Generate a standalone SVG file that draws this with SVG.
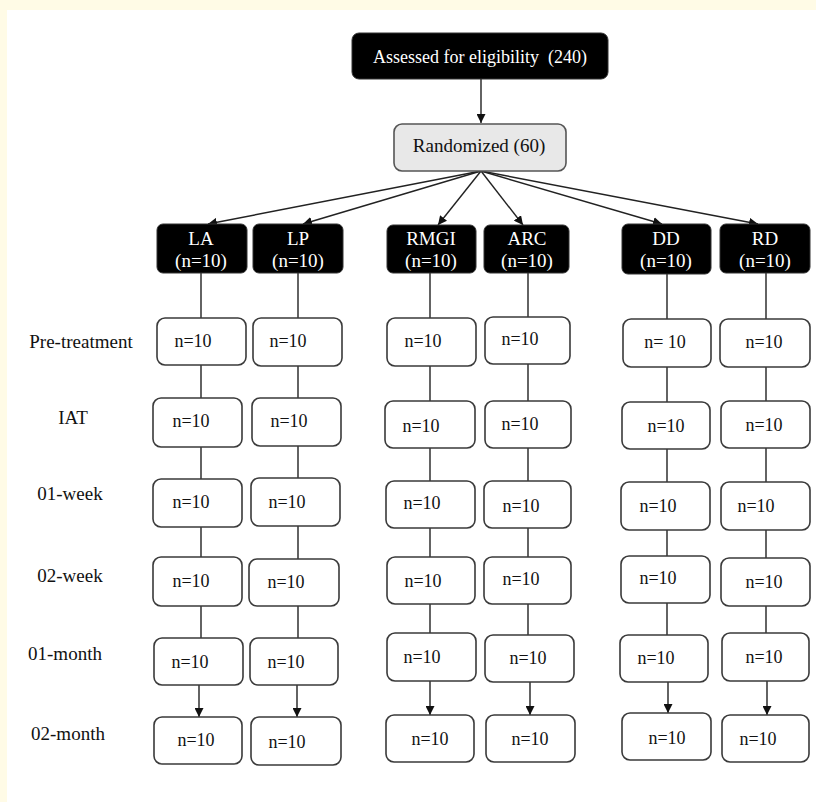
<svg xmlns="http://www.w3.org/2000/svg" width="816" height="802" viewBox="0 0 816 802">
<defs>
<style>
.bg{fill:#fffbe6}
.hdr{fill:#000;stroke:#333;stroke-width:1}
.box{fill:#fff;stroke:#3a3a3a;stroke-width:1.6}
.rnd{fill:#e8e8e8;stroke:#555;stroke-width:1.6}
.t{font-family:"Liberation Serif","Times New Roman",serif;font-size:18px;fill:#111;text-anchor:middle}
.w{fill:#fff;font-size:19px}
.lab{font-family:"Liberation Serif","Times New Roman",serif;font-size:19px;fill:#111;text-anchor:middle}
.ln{stroke:#222;stroke-width:1.4;fill:none}
</style>
<marker id="ah" viewBox="0 0 10 10" refX="10" refY="5" markerWidth="9" markerHeight="9" markerUnits="userSpaceOnUse" orient="auto">
<path d="M0,0 L10,5 L0,10 Z" fill="#111"/>
</marker>
</defs>
<rect x="0" y="0" width="816" height="802" fill="#fff"/>
<rect class="bg" x="0" y="0" width="816" height="10"/>
<rect class="bg" x="0" y="0" width="7" height="802"/>

<g id="connectors">
<line class="ln" x1="481" y1="79" x2="481" y2="123" marker-end="url(#ah)"/>
<line class="ln" x1="481" y1="171" x2="208" y2="224" marker-end="url(#ah)"/>
<line class="ln" x1="481" y1="171" x2="303" y2="224" marker-end="url(#ah)"/>
<line class="ln" x1="481" y1="171" x2="438" y2="225" marker-end="url(#ah)"/>
<line class="ln" x1="481" y1="171" x2="523" y2="225" marker-end="url(#ah)"/>
<line class="ln" x1="481" y1="171" x2="662" y2="224" marker-end="url(#ah)"/>
<line class="ln" x1="481" y1="171" x2="758" y2="224" marker-end="url(#ah)"/>
<line class="ln" x1="201" y1="273" x2="201" y2="638"/>
<line class="ln" x1="298" y1="273" x2="298" y2="638"/>
<line class="ln" x1="430" y1="273" x2="430" y2="633"/>
<line class="ln" x1="528" y1="273" x2="528" y2="635"/>
<line class="ln" x1="667" y1="274" x2="667" y2="635"/>
<line class="ln" x1="766" y1="273" x2="766" y2="633"/>
<line class="ln" x1="199" y1="685" x2="199" y2="717" marker-end="url(#ah)"/>
<line class="ln" x1="297" y1="685" x2="297" y2="717" marker-end="url(#ah)"/>
<line class="ln" x1="430" y1="681" x2="430" y2="715" marker-end="url(#ah)"/>
<line class="ln" x1="530" y1="682" x2="530" y2="715" marker-end="url(#ah)"/>
<line class="ln" x1="668" y1="682" x2="668" y2="713" marker-end="url(#ah)"/>
<line class="ln" x1="767" y1="681" x2="767" y2="715" marker-end="url(#ah)"/>
</g>

<g id="assessed"><rect class="hdr" x="352" y="33" width="256" height="46" rx="7"/><text class="t" x="480" y="63" style="fill:#fff">Assessed for eligibility &#160;(240)</text></g>
<g id="randomized"><rect class="rnd" x="394" y="124" width="172" height="47" rx="8"/><text class="t" x="479" y="152" style="font-size:19px">Randomized (60)</text></g>

<g id="hdr-LA"><rect class="hdr" x="157" y="224" width="90" height="49" rx="6"/><text class="t w" x="201" y="245">LA</text><text class="t w" x="201" y="267">(n=10)</text></g>
<g id="hdr-LP"><rect class="hdr" x="253" y="224" width="90" height="49" rx="6"/><text class="t w" x="298" y="245">LP</text><text class="t w" x="298" y="267">(n=10)</text></g>
<g id="hdr-RMGI"><rect class="hdr" x="387" y="225" width="89" height="48" rx="6"/><text class="t w" x="431" y="245">RMGI</text><text class="t w" x="431" y="267">(n=10)</text></g>
<g id="hdr-ARC"><rect class="hdr" x="484" y="225" width="85" height="48" rx="6"/><text class="t w" x="527" y="245">ARC</text><text class="t w" x="527" y="267">(n=10)</text></g>
<g id="hdr-DD"><rect class="hdr" x="622" y="224" width="89" height="50" rx="6"/><text class="t w" x="666" y="245">DD</text><text class="t w" x="666" y="267">(n=10)</text></g>
<g id="hdr-RD"><rect class="hdr" x="720" y="224" width="90" height="49" rx="6"/><text class="t w" x="765" y="245">RD</text><text class="t w" x="765" y="267">(n=10)</text></g>

<g id="labels">
<text class="lab" x="81" y="348">Pre-treatment</text>
<text class="lab" x="73" y="424">IAT</text>
<text class="lab" x="70" y="500">01-week</text>
<text class="lab" x="70" y="582">02-week</text>
<text class="lab" x="65" y="660">01-month</text>
<text class="lab" x="68" y="740">02-month</text>
</g>

<g id="row-pre">
<g id="pre-LA"><rect class="box" x="157" y="318" width="89" height="47" rx="8"/><text class="t" x="193" y="347">n=10</text></g>
<g id="pre-LP"><rect class="box" x="253" y="318" width="89" height="48" rx="8"/><text class="t" x="288" y="347">n=10</text></g>
<g id="pre-RMGI"><rect class="box" x="387" y="318" width="89" height="48" rx="8"/><text class="t" x="423" y="347">n=10</text></g>
<g id="pre-ARC"><rect class="box" x="485" y="317" width="85" height="47" rx="8"/><text class="t" x="520" y="345">n=10</text></g>
<g id="pre-DD"><rect class="box" x="623" y="319" width="88" height="48" rx="8"/><text class="t" x="665" y="348">n= 10</text></g>
<g id="pre-RD"><rect class="box" x="720" y="319" width="90" height="48" rx="8"/><text class="t" x="764" y="348">n=10</text></g>
</g>

<g id="row-iat">
<g id="iat-LA"><rect class="box" x="153" y="398" width="89" height="49" rx="8"/><text class="t" x="191" y="427">n=10</text></g>
<g id="iat-LP"><rect class="box" x="252" y="398" width="89" height="48" rx="8"/><text class="t" x="289" y="427">n=10</text></g>
<g id="iat-RMGI"><rect class="box" x="385" y="401" width="90" height="47" rx="8"/><text class="t" x="421" y="432">n=10</text></g>
<g id="iat-ARC"><rect class="box" x="485" y="401" width="86" height="47" rx="8"/><text class="t" x="520" y="430">n=10</text></g>
<g id="iat-DD"><rect class="box" x="622" y="402" width="88" height="47" rx="8"/><text class="t" x="666" y="432">n=10</text></g>
<g id="iat-RD"><rect class="box" x="721" y="401" width="89" height="47" rx="8"/><text class="t" x="764" y="431">n=10</text></g>
</g>

<g id="row-w1">
<g id="w1-LA"><rect class="box" x="153" y="479" width="89" height="48" rx="8"/><text class="t" x="191" y="508">n=10</text></g>
<g id="w1-LP"><rect class="box" x="251" y="478" width="89" height="48" rx="8"/><text class="t" x="287" y="508">n=10</text></g>
<g id="w1-RMGI"><rect class="box" x="386" y="481" width="89" height="47" rx="8"/><text class="t" x="422" y="509">n=10</text></g>
<g id="w1-ARC"><rect class="box" x="484" y="481" width="87" height="47" rx="8"/><text class="t" x="521" y="512">n=10</text></g>
<g id="w1-DD"><rect class="box" x="621" y="482" width="89" height="48" rx="8"/><text class="t" x="658" y="512">n=10</text></g>
<g id="w1-RD"><rect class="box" x="721" y="482" width="89" height="48" rx="8"/><text class="t" x="756" y="512">n=10</text></g>
</g>

<g id="row-w2">
<g id="w2-LA"><rect class="box" x="153" y="557" width="89" height="49" rx="8"/><text class="t" x="191" y="587">n=10</text></g>
<g id="w2-LP"><rect class="box" x="249" y="559" width="90" height="47" rx="8"/><text class="t" x="286" y="588">n=10</text></g>
<g id="w2-RMGI"><rect class="box" x="387" y="557" width="88" height="47" rx="8"/><text class="t" x="423" y="587">n=10</text></g>
<g id="w2-ARC"><rect class="box" x="484" y="557" width="87" height="47" rx="8"/><text class="t" x="521" y="585">n=10</text></g>
<g id="w2-DD"><rect class="box" x="621" y="556" width="89" height="47" rx="8"/><text class="t" x="658" y="584">n=10</text></g>
<g id="w2-RD"><rect class="box" x="721" y="558" width="89" height="48" rx="8"/><text class="t" x="764" y="588">n=10</text></g>
</g>

<g id="row-m1">
<g id="m1-LA"><rect class="box" x="154" y="638" width="89" height="47" rx="8"/><text class="t" x="190" y="668">n=10</text></g>
<g id="m1-LP"><rect class="box" x="250" y="638" width="88" height="47" rx="8"/><text class="t" x="286" y="668">n=10</text></g>
<g id="m1-RMGI"><rect class="box" x="387" y="633" width="89" height="48" rx="8"/><text class="t" x="422" y="663">n=10</text></g>
<g id="m1-ARC"><rect class="box" x="485" y="635" width="89" height="47" rx="8"/><text class="t" x="528" y="664">n=10</text></g>
<g id="m1-DD"><rect class="box" x="620" y="635" width="88" height="47" rx="8"/><text class="t" x="656" y="664">n=10</text></g>
<g id="m1-RD"><rect class="box" x="722" y="633" width="87" height="48" rx="8"/><text class="t" x="764" y="663">n=10</text></g>
</g>

<g id="row-m2">
<g id="m2-LA"><rect class="box" x="154" y="717" width="88" height="47" rx="8"/><text class="t" x="196" y="746">n=10</text></g>
<g id="m2-LP"><rect class="box" x="251" y="717" width="90" height="48" rx="8"/><text class="t" x="287" y="748">n=10</text></g>
<g id="m2-RMGI"><rect class="box" x="386" y="715" width="88" height="47" rx="8"/><text class="t" x="430" y="745">n=10</text></g>
<g id="m2-ARC"><rect class="box" x="486" y="715" width="89" height="47" rx="8"/><text class="t" x="530" y="745">n=10</text></g>
<g id="m2-DD"><rect class="box" x="622" y="713" width="89" height="47" rx="8"/><text class="t" x="667" y="744">n=10</text></g>
<g id="m2-RD"><rect class="box" x="722" y="715" width="87" height="47" rx="8"/><text class="t" x="758" y="745">n=10</text></g>
</g>
</svg>
